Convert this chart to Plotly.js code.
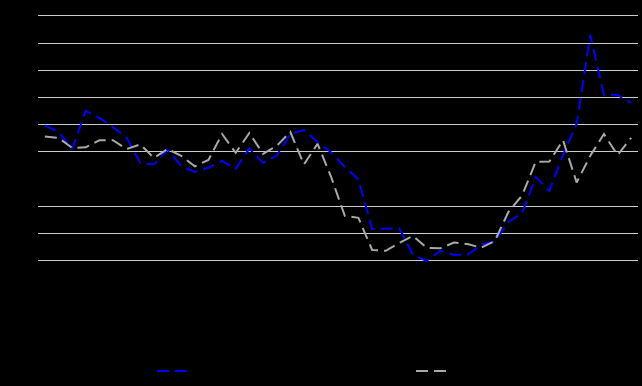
<!DOCTYPE html>
<html>
<head>
<meta charset="utf-8">
<script src="https://cdn.plot.ly/plotly-3.0.1.min.js"></script>
<style>html,body{margin:0;padding:0;background:#000;}#chart{width:642px;height:386px;}</style>
</head>
<body>
<div id="chart"></div>
<script>
// period index (x)
const periods = [0,1,2,3,4,5,6,7,8,9,10,11,12,13,14,15,16,17,18,19,20,21,22,23,24,25,26,27,28,29,30,31,32,33,34,35,36,37,38,39,40,41,42,43];

// series 1 (blue, dashed)
const seriesBlue = [1.98,1.74,1.10,2.51,2.25,1.92,1.52,0.60,0.54,1.08,0.49,0.27,0.42,0.67,0.38,1.13,0.60,0.86,1.66,1.81,1.37,0.98,0.45,-0.01,-1.83,-1.83,-1.81,-2.78,-3.00,-2.63,-2.78,-2.78,-2.41,-2.29,-1.57,-1.24,0.08,-0.43,0.89,2.03,5.30,3.10,3.10,2.80];

// series 2 (gray, dashed)
const seriesGray = [1.57,1.52,1.15,1.17,1.43,1.43,1.11,1.28,0.78,1.11,0.86,0.47,0.71,1.66,0.97,1.70,0.93,1.22,1.74,0.54,1.30,0.08,-1.35,-1.42,-2.60,-2.63,-2.34,-2.08,-2.52,-2.54,-2.33,-2.38,-2.52,-2.27,-1.20,-0.60,0.64,0.65,1.43,-0.12,0.86,1.66,0.89,1.52];

const yTicks = [-3,-2,-1,0,1,2,3,4,5,6];

const traces = [
  {x: periods, y: seriesBlue, type: 'scatter', mode: 'lines', name: 'Series A', legend: 'legend',
   line: {color: '#0000ff', width: 2, dash: '12px,6px'}},
  {x: periods, y: seriesGray, type: 'scatter', mode: 'lines', name: 'Series B', legend: 'legend2',
   line: {color: '#a9a9a9', width: 2, dash: '12px,6px'}}
];

const legendBase = {orientation: 'h', xanchor: 'left', yanchor: 'middle', y: -0.399,
                    bgcolor: 'rgba(0,0,0,0)', font: {color: '#000000', size: 12}};

const layout = {
  width: 642, height: 386,
  paper_bgcolor: '#000000', plot_bgcolor: '#000000',
  margin: {l: 38, r: 4, t: 10, b: 118, autoexpand: false},
  font: {family: 'Open Sans', size: 12, color: '#000000'},
  showlegend: true,
  legend: Object.assign({}, legendBase, {x: 0.19}),
  legend2: Object.assign({}, legendBase, {x: 0.6217}),
  xaxis: {range: [-0.5, 43.5], showgrid: false, zeroline: false, showline: false,
          ticks: '', tickfont: {color: '#000000'}, automargin: false},
  yaxis: {range: [-3.263, 6.217], tickvals: yTicks, showgrid: true, gridcolor: '#cccccc', gridwidth: 1,
          zeroline: true, zerolinecolor: '#000000', showline: false, ticks: '',
          tickfont: {color: '#000000'}, automargin: false}
};

Plotly.newPlot('chart', traces, layout, {displayModeBar: false, staticPlot: true});
</script>
</body>
</html>
